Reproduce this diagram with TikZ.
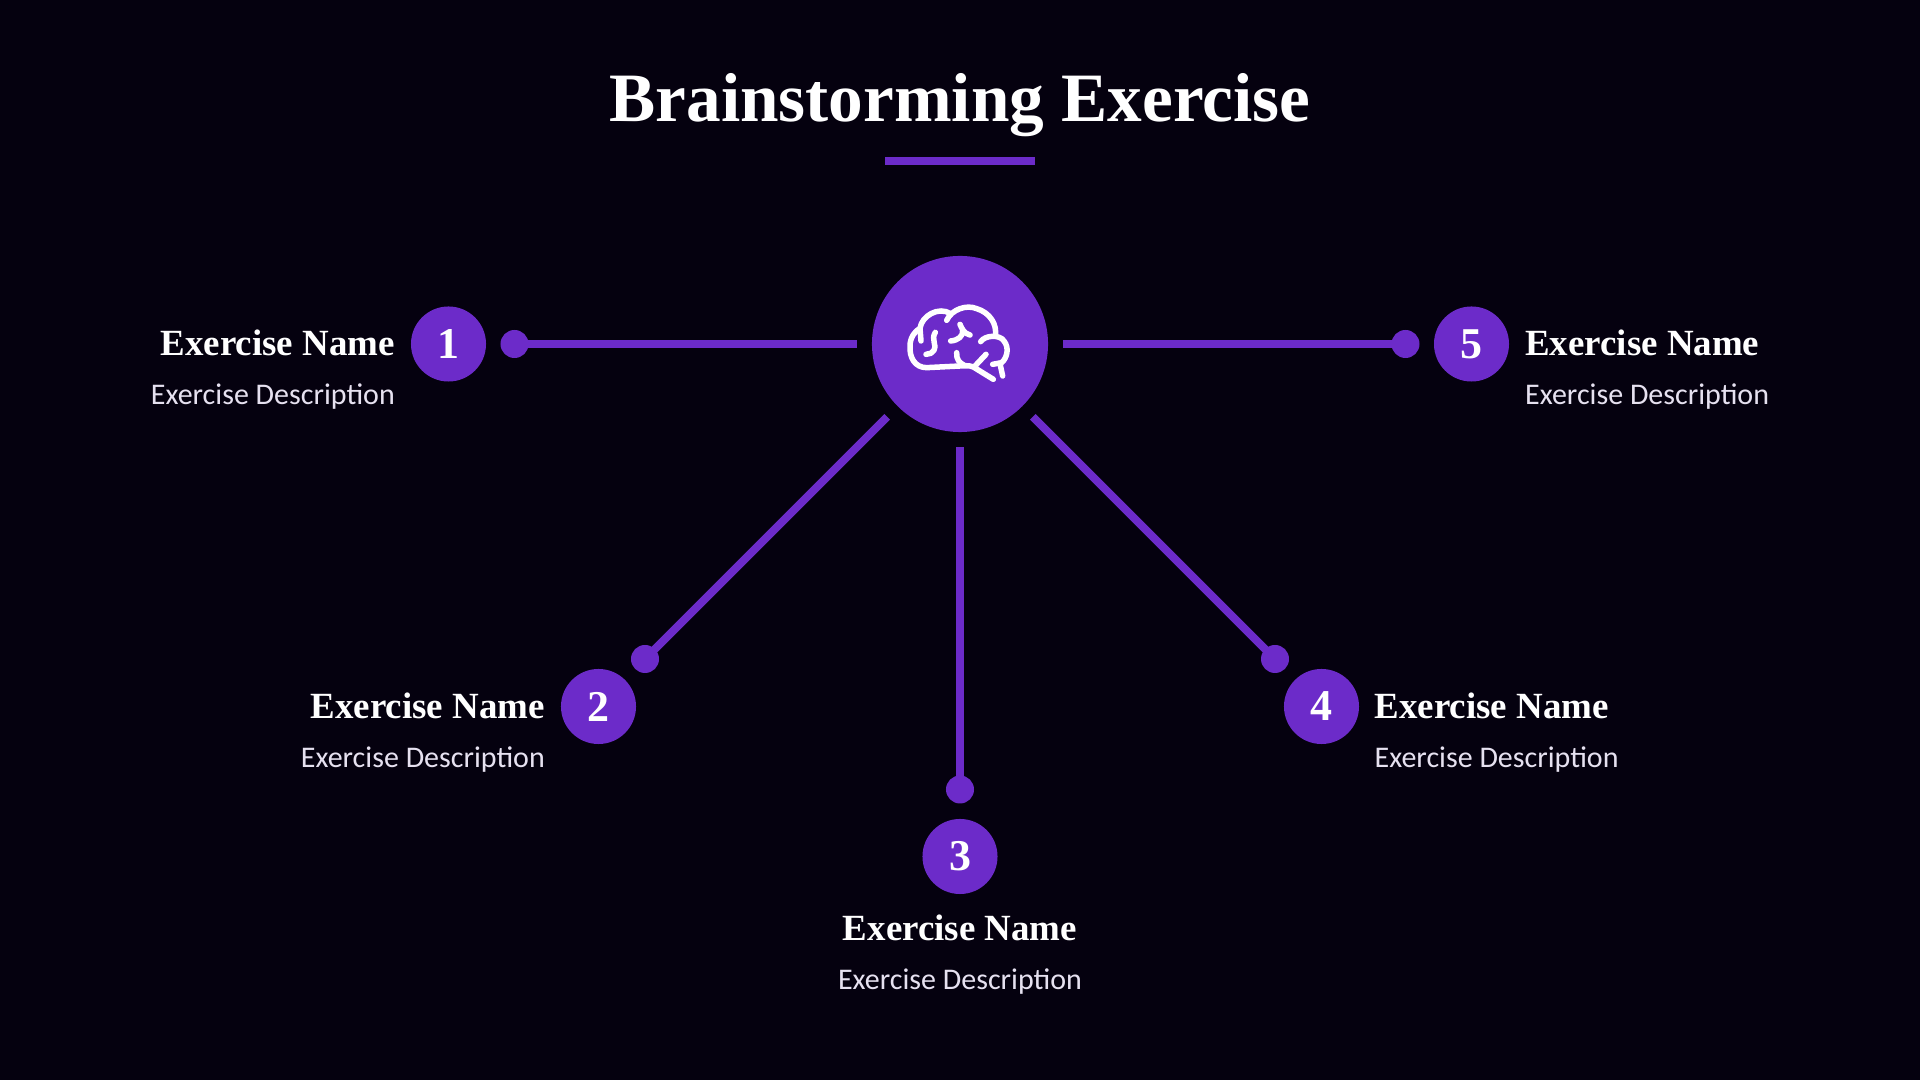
\documentclass[tikz,border=0pt]{standalone}
\usepackage{fontspec}
\newfontfamily\descfont{Carlito}
\newfontfamily\headfont{Liberation Serif}
\definecolor{bgdark}{HTML}{05010F}
\definecolor{hubpurple}{HTML}{6C2BC9}
\definecolor{desctext}{HTML}{E6E1F0}
\tikzset{
  hubnode/.style={circle, fill=hubpurple, minimum size=1.76cm, inner sep=0pt, outer sep=0.15cm},
  numnode/.style={circle, fill=hubpurple, minimum size=0.75cm, inner sep=0pt, text=white,
    font=\fontsize{12.5}{14}\selectfont\headfont\bfseries},
  dotnode/.style={circle, fill=hubpurple, minimum size=0.28cm, inner sep=0pt, outer sep=0pt},
  spoke/.style={hubpurple, line width=0.08cm, shorten >=-0.03cm},
  namelabel/.style={text=white, inner sep=0pt, font=\fontsize{10.5}{12}\selectfont\headfont\bfseries},
  desclabel/.style={text=desctext, inner sep=0pt, font=\fontsize{8.53}{10}\selectfont\descfont},
  brainline/.style={white, line width=0.055cm, line cap=round, line join=round},
}
\begin{document}
\begin{tikzpicture}[x=0.01cm, y=-0.01cm]
  \fill[bgdark] (0,0) rectangle (1920,1080);
  \useasboundingbox (0,0) rectangle (1920,1080);
  % Title and rule
  \node[text=white, inner sep=0pt, anchor=base, font=\fontsize{19.7}{22}\selectfont\headfont\bfseries] (title) at (960,122) {Brainstorming Exercise};
  \fill[hubpurple] (885,157) rectangle (1035,165);
  % Centre
  \node[hubnode] (hub) at (960,344) {};
  % Numbered circles with their dots, joined to the centre
  \foreach \i/\cx/\cy/\dx/\dy in {1/448.5/344/514.5/344, 2/598.5/706.5/645/659, 3/960/856.5/960/789.5, 4/1321.5/706.5/1275/659, 5/1471.5/344/1405.5/344} {
    \node[numnode] (num\i) at (\cx,\cy) {\i};
    \node[dotnode] (dot\i) at (\dx,\dy) {};
    \draw[spoke] (hub) -- (dot\i);
  }
  % Labels
  \node[namelabel, anchor=base east] (name1) at (395.5,356) {Exercise Name};
  \node[desclabel, anchor=base east] (desc1) at (395.5,405) {Exercise Description};
  \node[namelabel, anchor=base east] (name2) at (545.5,719) {Exercise Name};
  \node[desclabel, anchor=base east] (desc2) at (545.5,768) {Exercise Description};
  \node[namelabel, anchor=base] (name3) at (960,941) {Exercise Name};
  \node[desclabel, anchor=base] (desc3) at (960,990) {Exercise Description};
  \node[namelabel, anchor=base west] (name4) at (1374,719) {Exercise Name};
  \node[desclabel, anchor=base west] (desc4) at (1374,768) {Exercise Description};
  \node[namelabel, anchor=base west] (name5) at (1524.5,356) {Exercise Name};
  \node[desclabel, anchor=base west] (desc5) at (1524.5,405) {Exercise Description};
  % Brain icon
  \begin{scope}[shift={(860,241)}, x=0.01cm/3, y=-0.01cm/3]
    \draw[brainline] (400,415) -- (340,378) .. controls (325,372) and (315,375) .. (300,375) -- (200,380)
      .. controls (165,380) and (148,350) .. (150,315) .. controls (150,290) and (165,270) .. (180,262)
      .. controls (185,225) and (235,195) .. (272,218);
    \draw[brainline] (260,238) .. controls (275,205) and (320,190) .. (350,203)
      .. controls (390,215) and (412,250) .. (406,286);
    \draw[brainline] (362,302) .. controls (375,282) and (420,280) .. (432,300)
      .. controls (448,320) and (442,350) .. (425,365) -- (398,370);
    \draw[brainline] (420,368) -- (428,405);
    \draw[brainline] (180,262) -- (183,300);
    \draw[brainline] (226,274) .. controls (212,295) and (232,315) .. (222,328) .. controls (218,336) and (208,340) .. (198,340);
    \draw[brainline] (272,300) .. controls (295,298) and (310,285) .. (308,268);
    \draw[brainline] (300,250) .. controls (305,262) and (312,278) .. (330,282);
    \draw[brainline] (290,335) .. controls (288,355) and (300,368) .. (312,372);
    \draw[brainline] (378,340) -- (346,374);
  \end{scope}
\end{tikzpicture}
\end{document}
